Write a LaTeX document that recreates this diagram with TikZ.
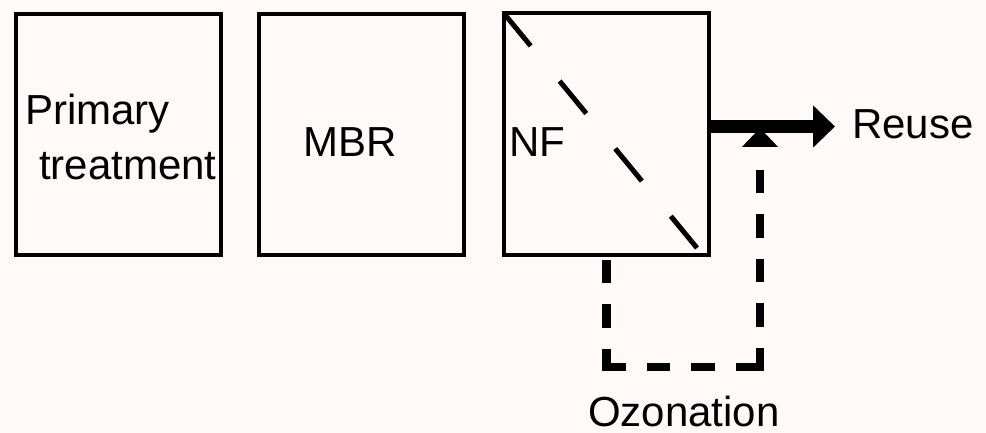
\documentclass[tikz,border=0pt]{standalone}
\usepackage{fontspec}
\setmainfont{Liberation Sans}
\usetikzlibrary{arrows.meta}
\definecolor{bgc}{RGB}{255,250,247}
\begin{document}
\begin{tikzpicture}[x=1pt,y=-1pt,
  box/.style={draw=black,line width=4pt,minimum width=205pt,minimum height=241pt,inner sep=0pt,outer sep=0pt},
  lbl/.style={anchor=base west,inner sep=0pt,font=\fontsize{42}{50}\selectfont},
  ozo/.style={line width=8.5pt,line cap=rect,dash pattern=on 15pt off 29.5pt},
  diag/.style={line width=5pt,dash pattern=on 42pt off 45.5pt}]
\fill[bgc] (0,0) rectangle (986,433);
\useasboundingbox (0,0) rectangle (986,433);
\node[box] (pt) at (118.5,134.5) {};
\node[box] (mbr) at (361.5,134.5) {};
\node[box] (nf) at (606.5,134) {};
\node[lbl] (t1) at (25,125) {Primary};
\node[lbl] (t2) at (39,180) {treatment};
\node[lbl] (t3) at (303,157) {MBR};
\node[lbl] (t4) at (509,157) {NF};
\node[lbl] (reuse) at (852,139) {Reuse};
\node[lbl] (ozon) at (588,426) {Ozonation};
\coordinate (d1) at (697,248);
\draw[diag] (nf.north west) -- (d1);
\coordinate (s0) at (606.5,264);
\coordinate (c1) at (606.5,367);
\coordinate (c2) at (760,367);
\coordinate (tp) at (760,128);
\draw[ozo] (s0) -- (c1);
\draw[ozo] (c1) -- (c2);
\draw[ozo,-{Triangle[length=19pt,width=35pt]}] (c2) -- (tp);
\coordinate (a0) at (709,126.5);
\coordinate (a1) at (835,126.5);
\draw[line width=13pt,-{Triangle[length=22pt,width=41pt]}] (a0) -- (a1);
\end{tikzpicture}
\end{document}
